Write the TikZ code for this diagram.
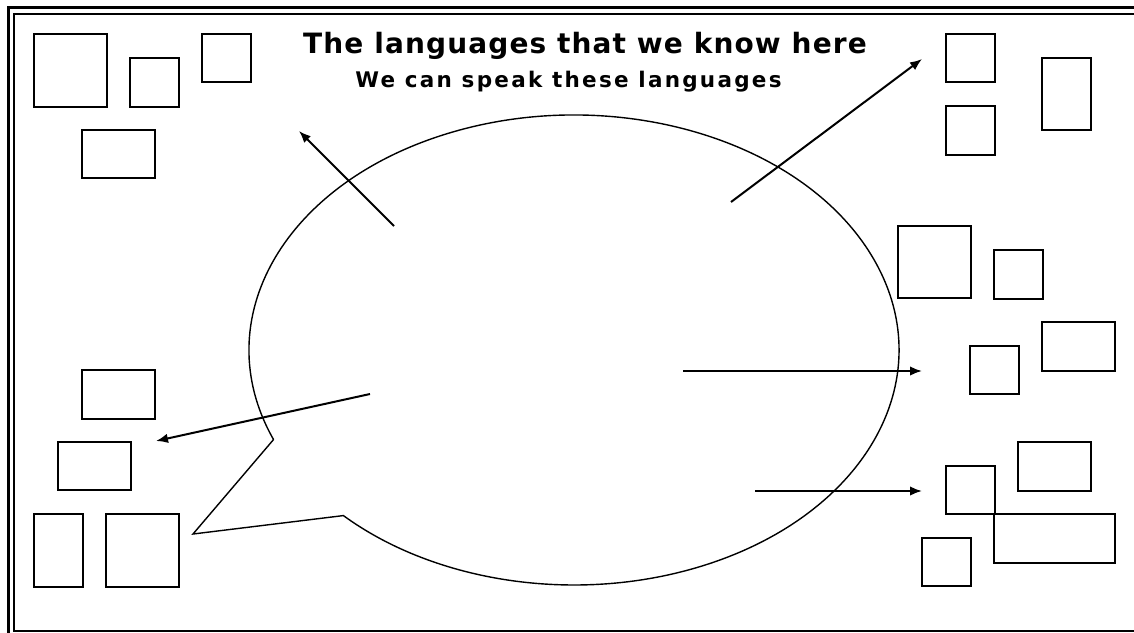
\documentclass[tikz,border=0pt]{standalone}
\usepackage{fontspec}
\usetikzlibrary{arrows.meta}
\newfontfamily\titlefont{DejaVu Sans}[LetterSpace=4.0]
\newfontfamily\subfont{DejaVu Sans}[LetterSpace=10.5]
\tikzset{
  box/.style={draw, line width=2pt},
  arr/.style={line width=2pt, -{Latex[length=12pt,width=9.5pt]}},
  bubble/.style={draw, line width=1.4pt, line join=miter},
  outerframe/.style={draw, line width=2.8pt},
  innerframe/.style={draw, line width=2pt},
}
\begin{document}
\begin{tikzpicture}[x=1pt,y=-1pt]
\useasboundingbox (0,0) rectangle (1134,632);
\begin{scope}
\clip (0,0) rectangle (1134,632);
\draw[outerframe] (8.3,7.8) rectangle (1160,660);
\draw[innerframe] (13.5,13.5) rectangle (1150,630.8);
\end{scope}
% title
\node[anchor=base, inner sep=0pt, font=\titlefont\bfseries\fontsize{28}{30}\selectfont] (title) at (585,53) {The languages that we know here};
\node[anchor=base, inner sep=0pt, font=\subfont\bfseries\fontsize{21.5}{23}\selectfont] (subtitle) at (568.5,87) {We can speak these languages};
% speech bubble
\coordinate (c) at (574,350);
\coordinate (tail) at (193,534);
\draw[bubble] (c) ++(157.6:325 and 235) coordinate (b1)
  arc[start angle=157.6, end angle=495.2, x radius=325, y radius=235] coordinate (b2)
  -- (tail) -- (b1);
% boxes top-left
\draw[box] (34,34) rectangle (107,107);
\draw[box] (130,58) rectangle (179,107);
\draw[box] (202,34) rectangle (251,82);
\draw[box] (82,130) rectangle (155,178);
% top-right
\draw[box] (946,34) rectangle (995,82);
\draw[box] (946,106) rectangle (995,155);
\draw[box] (1042,58) rectangle (1091,130);
% mid-right
\draw[box] (898,226) rectangle (971,298);
\draw[box] (994,250) rectangle (1043,299);
\draw[box] (1042,322) rectangle (1115,371);
\draw[box] (970,346) rectangle (1019,394);
% bottom-right
\draw[box] (1018,442) rectangle (1091,491);
\draw[box] (946,466) rectangle (995,514);
\draw[box] (994,514) rectangle (1115,563);
\draw[box] (922,538) rectangle (971,586);
% bottom-left
\draw[box] (82,370) rectangle (155,419);
\draw[box] (58,442) rectangle (131,490);
\draw[box] (34,514) rectangle (83,587);
\draw[box] (106,514) rectangle (179,587);
% arrows
\coordinate (s1) at (394,226); \coordinate (e1) at (299,131);
\coordinate (s2) at (731,202); \coordinate (e2) at (922,59);
\coordinate (s3) at (683,371); \coordinate (e3) at (922,371);
\coordinate (s4) at (755,491); \coordinate (e4) at (922,491);
\coordinate (s5) at (370,394); \coordinate (e5) at (156,441);
\draw[arr] (s1) -- (e1);
\draw[arr] (s2) -- (e2);
\draw[arr] (s3) -- (e3);
\draw[arr] (s4) -- (e4);
\draw[arr] (s5) -- (e5);
\end{tikzpicture}
\end{document}
